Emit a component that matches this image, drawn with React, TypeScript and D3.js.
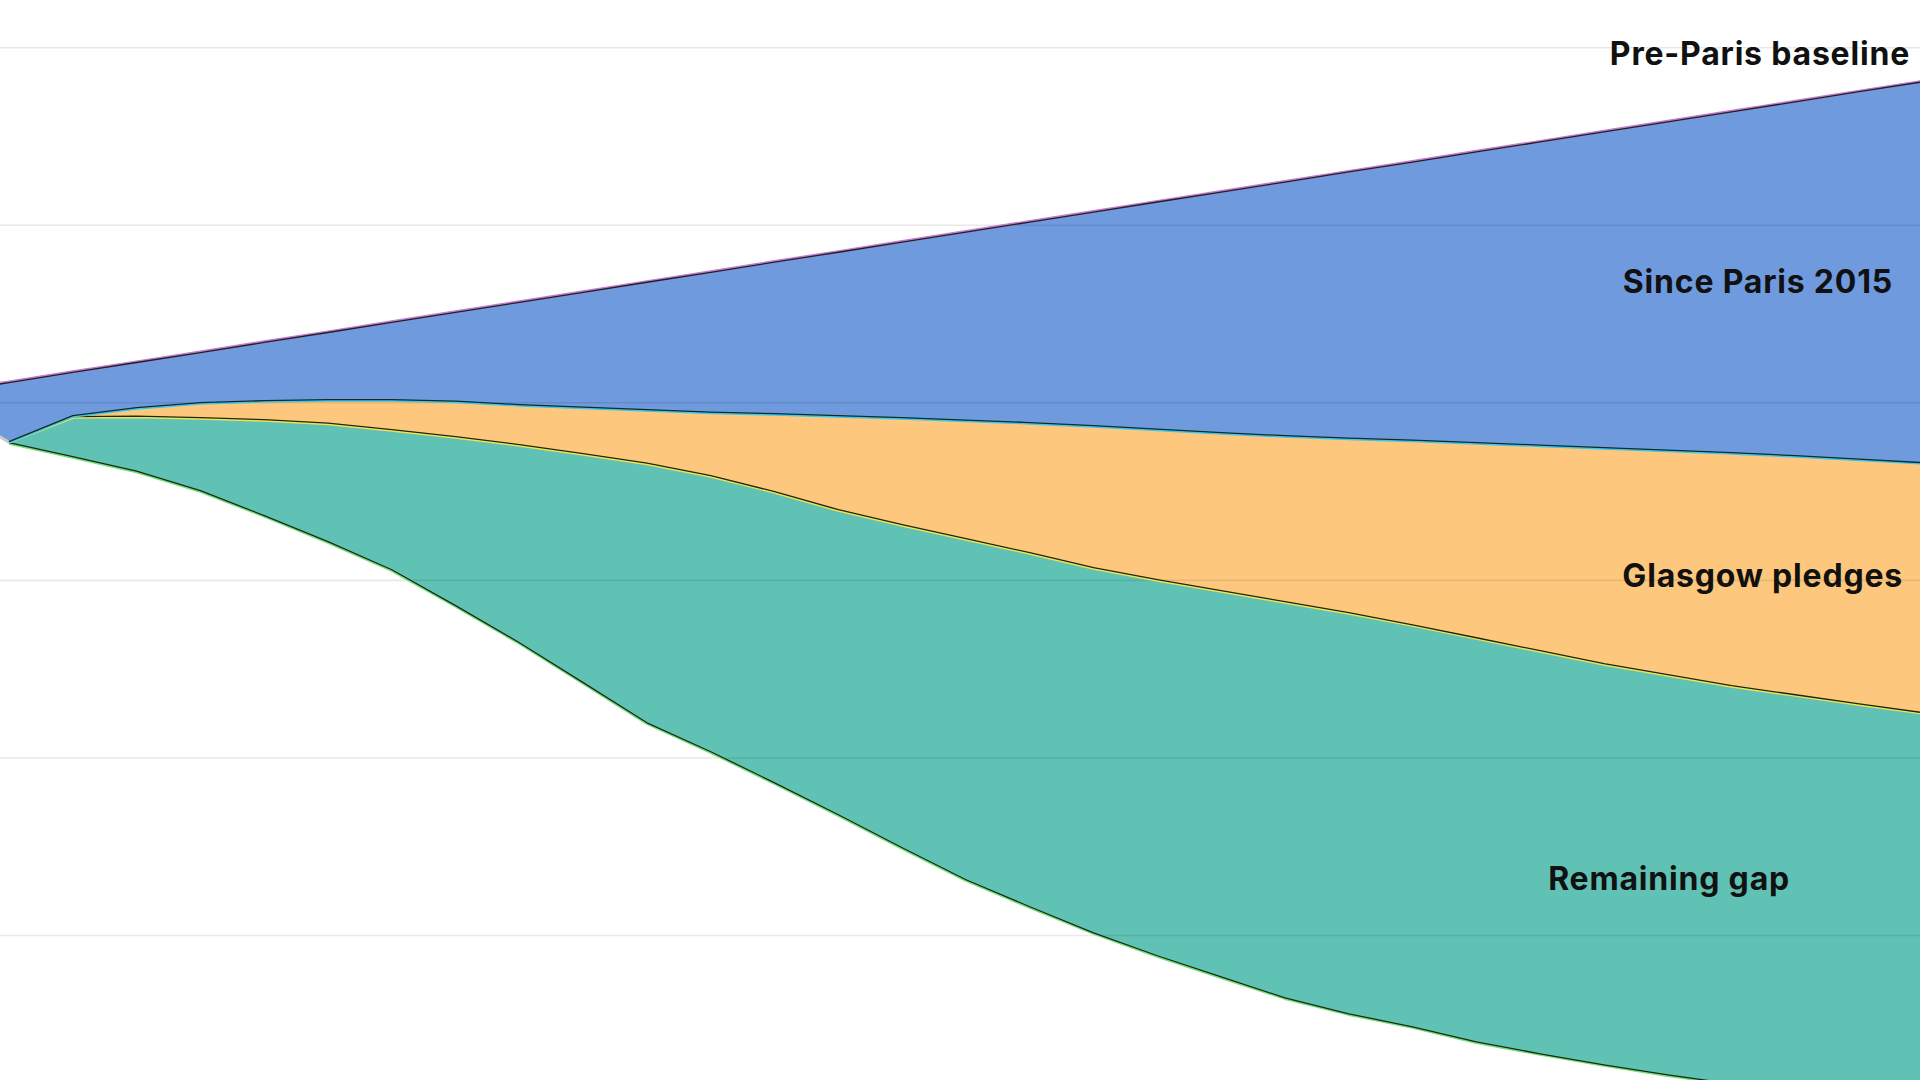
import React from "react";
import * as d3 from "d3";

// Emissions pathways, GtCO2e per year
const years = [
  2019, 2020, 2021, 2022, 2023, 2024, 2025, 2026, 2027, 2028, 2029, 2030,
  2031, 2032, 2033, 2034, 2035, 2036, 2037, 2038, 2039, 2040, 2041, 2042,
  2043, 2044, 2045, 2046, 2047, 2048, 2049, 2050,
];

// Trajectory expected before the Paris Agreement
const preParisBaseline = [
  50.62, 51.18, 51.75, 52.31, 52.87, 53.44, 54.0, 54.57, 55.13, 55.7, 56.26, 56.83,
  57.39, 57.96, 58.52, 59.09, 59.65, 60.22, 60.78, 61.35, 61.91, 62.47, 63.04, 63.6,
  64.17, 64.73, 65.3, 65.86, 66.43, 66.99, 67.56, 68.12,
];

// Current policies after Paris 2015
const currentPolicies = [
  49.97, 47.78, 49.24, 49.69, 49.97, 50.08, 50.14, 50.14, 50.06, 49.86, 49.72, 49.58,
  49.44, 49.35, 49.24, 49.13, 48.99, 48.85, 48.68, 48.48, 48.28, 48.11, 47.97, 47.86,
  47.72, 47.58, 47.44, 47.3, 47.15, 46.99, 46.79, 46.59,
];

// Pathway if the Glasgow pledges are met
const glasgowPathway = [
  49.97, 47.78, 49.18, 49.21, 49.13, 49.01, 48.82, 48.45, 48.06, 47.61, 47.1, 46.56,
  45.86, 44.96, 43.94, 43.1, 42.31, 41.52, 40.68, 40.0, 39.38, 38.76, 38.14, 37.46,
  36.73, 36.0, 35.27, 34.65, 34.03, 33.52, 33.01, 32.51,
];

// 1.5C-compatible pathway
const targetPathway = [
  49.97, 47.72, 46.93, 46.11, 45.01, 43.61, 42.14, 40.56, 38.54, 36.45, 34.2, 31.94,
  30.31, 28.56, 26.76, 24.9, 23.1, 21.58, 20.11, 18.82, 17.63, 16.45, 15.55, 14.82,
  13.97, 13.3, 12.68, 12.11, 11.61, 11.1, 10.65, 10.2,
];

const gridValues = [10, 20, 30, 40, 50, 60, 70, 80];

const bandNames = ["Since Paris 2015", "Glasgow pledges", "Remaining gap"];
const baselineName = "Pre-Paris baseline";

const W = 1920;
const H = 1080;

type Row = { year: number; base: number; policy: number; glasgow: number; target: number };

const rows: Row[] = years.map((year, i) => ({
  year,
  base: preParisBaseline[i],
  policy: currentPolicies[i],
  glasgow: glasgowPathway[i],
  target: targetPathway[i],
}));

const projected = rows.filter((r) => r.year >= 2020);
const historic = rows.filter((r) => r.year <= 2020);

export default function App() {
  const x = d3.scaleLinear().domain([2020, 2050]).range([9, 1923]);
  const y = d3.scaleLinear().domain([20, 70]).range([935.5, 47.7]);

  const band = (lo: (r: Row) => number, hi: (r: Row) => number) =>
    d3
      .area<Row>()
      .x((r) => x(r.year))
      .y0((r) => y(lo(r)))
      .y1((r) => y(hi(r)))(rows) as string;

  const line = (data: Row[], v: (r: Row) => number) =>
    d3
      .line<Row>()
      .x((r) => x(r.year))
      .y((r) => y(v(r)))(data) as string;

  const font = "Inter, 'Noto Sans', sans-serif";
  const labelStyle = {
    fontFamily: font,
    fontWeight: 700,
    fontSize: 32,
    letterSpacing: 0.8,
    fill: "#111",
  } as const;

  const edge = (d: string, color: string, dy: number) => (
    <g>
      <path d={d} fill="none" stroke={color} strokeWidth={2.8} strokeLinejoin="round" />
      <path
        d={d}
        fill="none"
        stroke="#1b241f"
        strokeWidth={1.3}
        strokeLinejoin="round"
        transform={`translate(0,${dy})`}
      />
    </g>
  );

  return (
    <svg
      width={W}
      height={H}
      viewBox={`0 0 ${W} ${H}`}
      style={{ position: "absolute", left: 0, top: 0, background: "#fff" }}
    >
      <rect width={W} height={H} fill="#fff" />
      <path d={band((r) => r.policy, (r) => r.base)} fill="#6f9ade" />
      <path d={band((r) => r.glasgow, (r) => r.policy)} fill="#fdc87d" />
      <path d={band((r) => r.target, (r) => r.glasgow)} fill="#60c1b5" />

      {gridValues.map((v) => (
        <line
          key={v}
          x1={0}
          x2={W}
          y1={y(v)}
          y2={y(v)}
          stroke="#000"
          strokeOpacity={0.085}
          strokeWidth={1.6}
        />
      ))}

      <path
        d={line(historic, (r) => r.policy)}
        fill="none"
        stroke="#c9c9c9"
        strokeWidth={3}
      />
      {edge(line(projected, (r) => r.target), "#6fe07a", -0.7)}
      {edge(line(projected, (r) => r.glasgow), "#f3e34a", -0.7)}
      {edge(line(projected, (r) => r.policy), "#39c6f2", -0.7)}
      {edge(line(rows, (r) => r.base), "#c47ad0", 0.7)}

      <text x={1910} y={65} textAnchor="end" style={labelStyle}>
        {baselineName}
      </text>
      <text x={1893} y={293} textAnchor="end" style={labelStyle}>
        {bandNames[0]}
      </text>
      <text x={1903} y={587} textAnchor="end" style={labelStyle}>
        {bandNames[1]}
      </text>
      <text x={1790} y={890} textAnchor="end" style={labelStyle}>
        {bandNames[2]}
      </text>
    </svg>
  );
}
